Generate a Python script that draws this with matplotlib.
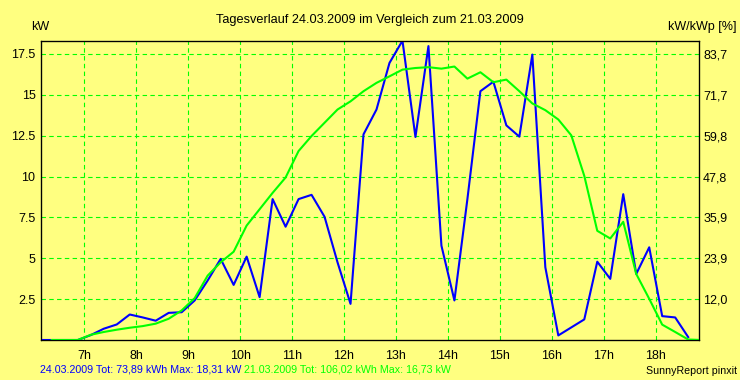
import matplotlib.pyplot as plt

plt.rcParams['font.family'] = ['Liberation Sans', 'DejaVu Sans']

# Sample times (hours), 15-minute readings
times = [6.125, 6.375, 6.625, 6.875, 7.125, 7.375, 7.625, 7.875, 8.125, 8.375,
         8.625, 8.875, 9.125, 9.375, 9.625, 9.875, 10.125, 10.375, 10.625, 10.875,
         11.125, 11.375, 11.625, 11.875, 12.125, 12.375, 12.625, 12.875, 13.125, 13.375,
         13.625, 13.875, 14.125, 14.375, 14.625, 14.875, 15.125, 15.375, 15.625, 15.875,
         16.125, 16.375, 16.625, 16.875, 17.125, 17.375, 17.625, 17.875, 18.125, 18.375,
         18.625, 18.875]

# 24.03.2009 (kW)
blue_kw = [0, 0, 0, 0, 0.3, 0.69, 0.95, 1.56, 1.38, 1.18,
           1.66, 1.7, 2.42, 3.64, 4.96, 3.37, 5.1, 2.62, 8.62, 6.93,
           8.62, 8.88, 7.54, 4.75, 2.21, 12.58, 14.1, 16.95, 18.31, 12.42,
           17.98, 5.77, 2.42, 8.62, 15.22, 15.8, 13.13, 12.44, 17.46, 4.45,
           0.28, 0.77, 1.26, 4.79, 3.74, 8.92, 4.04, 5.67, 1.46, 1.38,
           0.18, None]

# 21.03.2009 (kW)
green_kw = [None, 0, 0, 0, 0.32, 0.49, 0.63, 0.75, 0.85, 1.0,
            1.3, 1.81, 2.56, 3.94, 4.75, 5.4, 7.0, 8.0, 9.0, 9.94,
            11.56, 12.48, 13.29, 14.1, 14.6, 15.22, 15.73, 16.13, 16.54, 16.64,
            16.69, 16.6, 16.73, 15.99, 16.38, 15.77, 15.93, 15.22, 14.47, 14.06,
            13.49, 12.52, 10.04, 6.68, 6.21, 7.23, 4.04, 2.52, 0.94, 0.49,
            0.03, 0]

hour_ticks = [7, 8, 9, 10, 11, 12, 13, 14, 15, 16, 17, 18]
kw_ticks = [2.5, 5, 7.5, 10, 12.5, 15, 17.5]
kw_labels = ['2.5', '5', '7.5', '10', '12.5', '15', '17.5']
pct_labels = ['12,0', '23,9', '35,9', '47,8', '59,8', '71,7', '83,7']

bg = '#ffff80'
fig = plt.figure(figsize=(7.4, 3.8), dpi=100, facecolor=bg)
ax = fig.add_axes([41 / 740, 1 - 340 / 380, (699 - 41) / 740, (340 - 40.7) / 380])
ax.set_facecolor(bg)

bt = [t for t, v in zip(times, blue_kw) if v is not None]
bv = [v for v in blue_kw if v is not None]
gt = [t for t, v in zip(times, green_kw) if v is not None]
gv = [v for v in green_kw if v is not None]
ax.plot(bt, bv, color='#0000ff', lw=1.5, zorder=3)
ax.plot(gt, gv, color='#00ff00', lw=1.5, zorder=4)

ax.set_xlim(6 + 10 / 60, 18 + 50 / 60)
ax.set_ylim(0, 18.31)
ax.set_xticks(hour_ticks)
ax.set_xticklabels([f'{h}h' for h in hour_ticks])
ax.set_yticks(kw_ticks)
ax.set_yticklabels(kw_labels)
ax.grid(True, color='#00ff00', lw=0.8, ls=(0, (4, 3)), zorder=1)
ax.tick_params(length=0, labelsize=9, pad=4)
ax.tick_params(axis='x', pad=7)
for s in ax.spines.values():
    s.set_color('black')
    s.set_linewidth(0.9)

ax2 = ax.twinx()
ax2.set_ylim(ax.get_ylim())
ax2.set_yticks(kw_ticks)
ax2.set_yticklabels(pct_labels)
ax2.tick_params(length=0, labelsize=9, pad=3)

fig.text(370 / 740, 1 - 20 / 380, 'Tagesverlauf 24.03.2009 im Vergleich zum 21.03.2009',
         ha='center', va='center', fontsize=9.2)
fig.text(40 / 740, 1 - 27 / 380, 'kW', ha='center', va='center', fontsize=9)
fig.text(737 / 740, 1 - 27 / 380, 'kW/kWp [%]', ha='right', va='center', fontsize=9)

t1 = fig.text(40 / 740, 1 - 369 / 380, '24.03.2009 Tot: 73,89 kWh Max: 18,31 kW ',
              ha='left', va='center', fontsize=7.7, color='#0000ff')
ax.annotate('21.03.2009 Tot: 106,02 kWh Max: 16,73 kW', xy=(1, 0.5), xycoords=t1,
            ha='left', va='center', fontsize=7.7, color='#00ff00', annotation_clip=False)
fig.text(737 / 740, 1 - 371 / 380, 'SunnyReport pinxit', ha='right', va='center', fontsize=7.7)

fig.savefig('out.png', dpi=100, facecolor=bg)
